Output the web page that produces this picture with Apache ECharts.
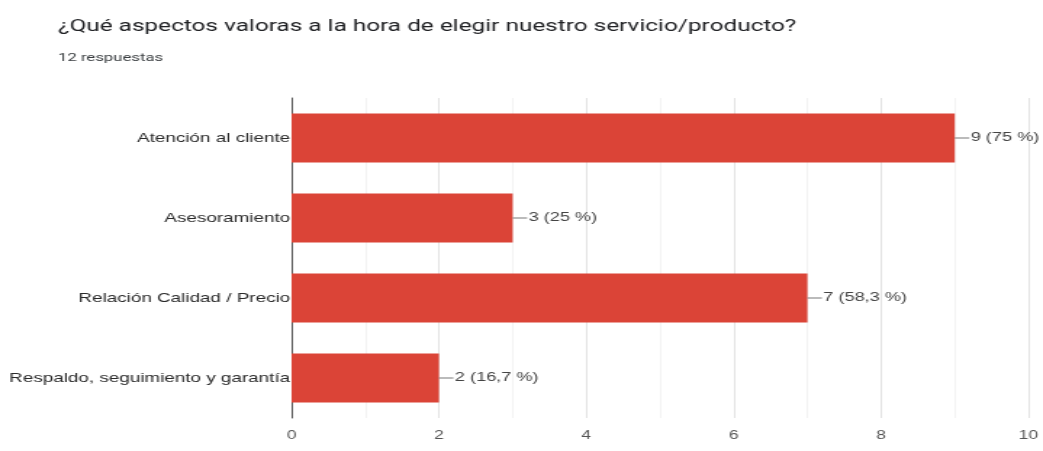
<!DOCTYPE html>
<html>
<head>
<meta charset="utf-8">
<script src="https://cdn.jsdelivr.net/npm/echarts@6/dist/echarts.min.js"></script>
<style>
  html, body { margin: 0; padding: 0; background: #fff; overflow: hidden; }
  /* The chart is laid out narrower and widened horizontally to fill the page */
  #chart { width: 719px; height: 451px; transform: scaleX(1.4506); transform-origin: 0 0; }
</style>
</head>
<body>
<div id="chart"></div>
<script>
// Survey answers: counts per option and their share of the 12 responses
const categories = [
  'Atención al cliente',
  'Asesoramiento',
  'Relación Calidad / Precio',
  'Respaldo, seguimiento y garantía'
];
const counts = [9, 3, 7, 2];
const shares = ['75 %', '25 %', '58,3 %', '16,7 %'];
const xTicks = [0, 2, 4, 6, 8, 10];

const chart = echarts.init(document.getElementById('chart'), null, { renderer: 'canvas' });

chart.setOption({
  animation: false,
  backgroundColor: '#ffffff',
  textStyle: { fontFamily: '"Liberation Sans", Arial, sans-serif' },
  title: {
    text: '¿Qué aspectos valoras a la hora de elegir nuestro servicio/producto?',
    subtext: '12 respuestas',
    left: 35,
    top: 13,
    itemGap: 17,
    textStyle: { fontFamily: 'Roboto, sans-serif', fontSize: 16.8, fontWeight: 'normal', color: '#202124' },
    subtextStyle: { fontFamily: 'Roboto, sans-serif', fontSize: 11.5, color: '#3c4043' }
  },
  grid: { left: 201, right: 10, top: 98, bottom: 33 },
  xAxis: {
    type: 'value',
    min: xTicks[0],
    max: xTicks[xTicks.length - 1],
    interval: 2,
    axisLine: { show: false },
    axisTick: { show: false },
    axisLabel: { color: '#555', fontSize: 12, margin: 12 },
    splitLine: { show: true, lineStyle: { color: '#e3e3e3', width: 1 } },
    minorTick: { show: false, splitNumber: 2 },
    minorSplitLine: { show: true, lineStyle: { color: '#f3f3f3', width: 1 } }
  },
  yAxis: {
    type: 'category',
    data: categories,
    inverse: true,
    axisLine: { show: true, lineStyle: { color: '#555', width: 1 } },
    axisTick: { show: false },
    axisLabel: { color: '#2a2a2a', fontSize: 13, margin: 1 }
  },
  series: [{
    type: 'bar',
    data: counts,
    barCategoryGap: '39%',
    itemStyle: { color: '#db4437' },
    label: {
      show: true,
      position: 'right',
      distance: 0,
      formatter: p => '{ln|}{t|' + p.value + ' (' + shares[p.dataIndex] + ')}',
      rich: {
        ln: { width: 10, height: 1, backgroundColor: '#777', verticalAlign: 'middle' },
        t: { fontSize: 12.5, color: '#444', padding: [0, 0, 0, 1] }
      }
    }
  }]
});
</script>
</body>
</html>
